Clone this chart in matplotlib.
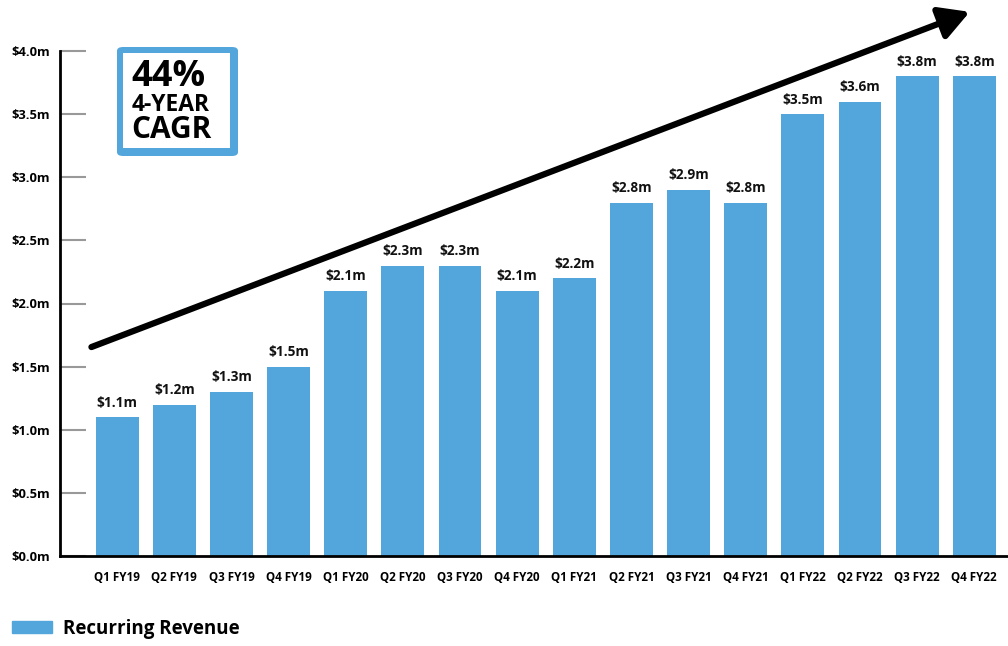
import matplotlib
matplotlib.use("Agg")
import matplotlib.pyplot as plt
from matplotlib.patches import FancyBboxPatch, Patch

plt.rcParams['font.family'] = ['Open Sans', 'DejaVu Sans']

# Recurring revenue by quarter ($m)
quarters = ["Q1 FY19", "Q2 FY19", "Q3 FY19", "Q4 FY19",
            "Q1 FY20", "Q2 FY20", "Q3 FY20", "Q4 FY20",
            "Q1 FY21", "Q2 FY21", "Q3 FY21", "Q4 FY21",
            "Q1 FY22", "Q2 FY22", "Q3 FY22", "Q4 FY22"]
revenue = [1.1, 1.2, 1.3, 1.5, 2.1, 2.3, 2.3, 2.1,
           2.2, 2.8, 2.9, 2.8, 3.5, 3.6, 3.8, 3.8]
yticks = [0.0, 0.5, 1.0, 1.5, 2.0, 2.5, 3.0, 3.5, 4.0]

bar_color = "#53A6DC"
W, H = 1008, 646

fig = plt.figure(figsize=(W / 100, H / 100), dpi=100)
ax = fig.add_axes([60 / W, 1 - 556 / H, (W - 60) / W, (556 - 51) / H])

x = list(range(len(quarters)))
ax.bar(x, revenue, width=0.75, color=bar_color, zorder=2)
for xi, v in zip(x, revenue):
    ax.text(xi, v + 0.06, f"${v:.1f}m", ha="center", va="bottom",
            fontsize=9.8, fontweight="bold", color="#111111")

ax.set_xlim(-1.0, 15.59)
ax.set_ylim(0, 4.0)
ax.set_xticks(x)
ax.set_xticklabels(quarters, fontsize=8.4, fontweight="bold")
ax.set_yticks(yticks)
ax.set_yticklabels([f"${t:.1f}m" for t in yticks], fontsize=9.3, fontweight="bold")
ax.tick_params(axis="x", length=0, pad=11)
ax.tick_params(axis="y", direction="in", length=19, width=1.5, color="#999999", pad=7)
for s in ["top", "right"]:
    ax.spines[s].set_visible(False)
ax.spines["left"].set_linewidth(2)
ax.spines["bottom"].set_linewidth(2)

# growth arrow
ax.annotate("", xy=(14.92, 4.31), xytext=(-0.45, 1.655),
            arrowprops=dict(arrowstyle="-|>,head_length=0.9,head_width=0.5",
                            lw=4.5, color="black", shrinkA=0, shrinkB=0,
                            mutation_scale=20, capstyle="round"),
            annotation_clip=False, zorder=5)

# CAGR badge
def fx(px):
    return px / W

def fy(py):
    return 1 - py / H

def badge_rect(x0, y0, x1, y1, color, style="square,pad=0"):
    fig.patches.append(FancyBboxPatch((fx(x0), fy(y1)), fx(x1) - fx(x0), fy(y0) - fy(y1),
                                      boxstyle=style, transform=fig.transFigure,
                                      facecolor=color, edgecolor="none"))

badge_rect(117, 47, 238, 156, bar_color, "round,pad=0,rounding_size=0.006")
badge_rect(123, 53, 230, 148, "white")
fig.text(fx(131), fy(77), "44%", fontsize=26, fontweight="bold", va="center", ha="left")
fig.text(fx(132), fy(105), "4-YEAR", fontsize=16.5, fontweight="bold", va="center", ha="left")
fig.text(fx(131), fy(130), "CAGR", fontsize=21.5, fontweight="bold", va="center", ha="left")

# legend
fig.legend(handles=[Patch(color=bar_color, label="Recurring Revenue")],
           loc="center left", bbox_to_anchor=(fx(-5), fy(629)), frameon=False,
           handlelength=2.15, handleheight=0.6, handletextpad=0.6,
           prop=dict(size=13.5, weight="bold"))

fig.savefig("out.png", dpi=100)
